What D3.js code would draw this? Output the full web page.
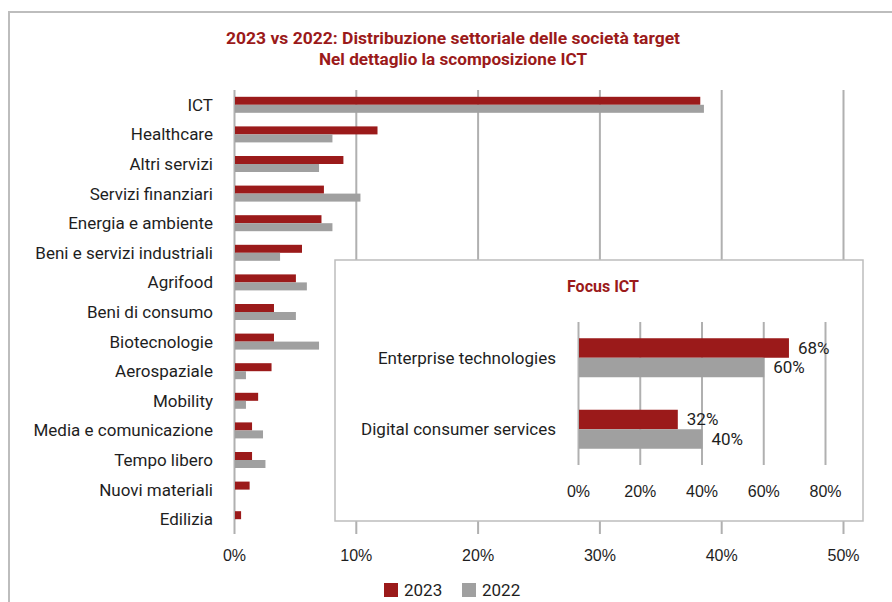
<!DOCTYPE html>
<html>
<head>
<meta charset="utf-8">
<script src="https://cdn.jsdelivr.net/npm/d3@7"></script>
<style>
  body { margin: 0; background: #fff; }
  svg { display: block; font-family: Roboto, "Noto Sans", sans-serif; }
</style>
</head>
<body>
<div id="chart"></div>
<script>
const categories = ["ICT", "Healthcare", "Altri servizi", "Servizi finanziari", "Energia e ambiente",
    "Beni e servizi industriali", "Agrifood", "Beni di consumo", "Biotecnologie", "Aerospaziale",
    "Mobility", "Media e comunicazione", "Tempo libero", "Nuovi materiali", "Edilizia"];
const values2023 = [38.2, 11.7, 8.9, 7.3, 7.1, 5.5, 5.0, 3.2, 3.2, 3.0, 1.9, 1.4, 1.4, 1.2, 0.5];
const values2022 = [38.5, 8.0, 6.9, 10.3, 8.0, 3.7, 5.9, 5.0, 6.9, 0.9, 0.9, 2.3, 2.5, 0, 0];
const xTicks = [0, 10, 20, 30, 40, 50];

const ictCategories = ["Enterprise technologies", "Digital consumer services"];
const ict2023 = [68, 32];
const ict2022 = [60, 40];
const ictTicks = [0, 20, 40, 60, 80];

const series = ["2023", "2022"];

const width = 892, height = 602;
const red = "#9b1a1a", gray = "#a0a0a0", grid = "#b0b0b0", ink = "#1e1e1e";

const svg = d3.select("#chart").append("svg")
    .attr("width", width)
    .attr("height", height);

// outer frame
svg.append("path")
    .attr("d", `M9,${height} V12 H${width}`)
    .attr("fill", "none")
    .attr("stroke", "#bdbdbd")
    .attr("stroke-width", 2);

// title
const titleLines = ["2023 vs 2022: Distribuzione settoriale delle società target", "Nel dettaglio la scomposizione ICT"];
const titleWidths = [454, 268];
svg.selectAll(".title")
    .data(titleLines)
    .enter().append("text")
    .attr("class", "title")
    .attr("x", 453)
    .attr("y", (d, i) => 38 + i * 21)
    .attr("dy", "0.35em")
    .attr("text-anchor", "middle")
    .attr("textLength", (d, i) => titleWidths[i])
    .attr("lengthAdjust", "spacingAndGlyphs")
    .style("font-size", "17px")
    .style("font-weight", "bold")
    .style("fill", red)
    .text(d => d);

// main chart
const x = d3.scaleLinear().domain([0, 50]).range([234, 843]);
const y = d3.scaleBand().domain(categories).range([90, 534]);
const barH = 8;

const xAxis = svg.append("g")
    .attr("transform", "translate(0,534)")
    .call(d3.axisBottom(x).tickValues(xTicks).tickFormat(d => d + "%")
        .tickSizeInner(-444).tickSizeOuter(0).tickPadding(16));
xAxis.select(".domain").remove();
xAxis.selectAll("line").attr("stroke", grid).attr("stroke-width", 2);
xAxis.selectAll("text").style("font-size", "16px").style("fill", ink).attr("font-family", null);

const rows = svg.selectAll(".row")
    .data(categories)
    .enter().append("g")
    .attr("class", "row")
    .attr("transform", d => `translate(0,${y(d) + y.bandwidth() / 2})`);

rows.append("text")
    .attr("x", 213)
    .attr("dy", "0.35em")
    .attr("text-anchor", "end")
    .style("font-size", "17px")
    .style("fill", ink)
    .text(d => d);

rows.append("rect")
    .attr("x", x(0) + 1)
    .attr("y", -barH)
    .attr("width", (d, i) => x(values2023[i]) - x(0))
    .attr("height", barH)
    .attr("fill", red);

rows.append("rect")
    .attr("x", x(0) + 1)
    .attr("y", 0)
    .attr("width", (d, i) => x(values2022[i]) - x(0))
    .attr("height", barH)
    .attr("fill", gray);

// inset: Focus ICT
const inset = svg.append("g");
inset.append("rect")
    .attr("x", 335).attr("y", 260)
    .attr("width", 528).attr("height", 261)
    .attr("fill", "#fff")
    .attr("stroke", "#bdbdbd")
    .attr("stroke-width", 1.5);

inset.append("text")
    .attr("x", 603)
    .attr("y", 286)
    .attr("dy", "0.35em")
    .attr("text-anchor", "middle")
    .style("font-size", "16px")
    .style("font-weight", "bold")
    .style("fill", red)
    .text("Focus ICT");

const xi = d3.scaleLinear().domain([0, 80]).range([578, 825]);
const yi = d3.scaleBand().domain(ictCategories).range([322, 465]);
const barHi = 19.5;

const xiAxis = inset.append("g")
    .attr("transform", "translate(0,465)")
    .call(d3.axisBottom(xi).tickValues(ictTicks).tickFormat(d => d + "%")
        .tickSizeInner(-143).tickSizeOuter(0).tickPadding(21));
xiAxis.select(".domain").remove();
xiAxis.selectAll("line").attr("stroke", grid).attr("stroke-width", 2);
xiAxis.selectAll("text").style("font-size", "16px").style("fill", ink).attr("font-family", null);

const irows = inset.selectAll(".irow")
    .data(ictCategories)
    .enter().append("g")
    .attr("class", "irow")
    .attr("transform", d => `translate(0,${yi(d) + yi.bandwidth() / 2})`);

irows.append("text")
    .attr("x", 556)
    .attr("dy", "0.35em")
    .attr("text-anchor", "end")
    .style("font-size", "17px")
    .style("fill", ink)
    .text(d => d);

[[ict2023, red, -barHi], [ict2022, gray, 0]].forEach(([vals, col, off]) => {
    irows.append("rect")
        .attr("x", xi(0) + 1)
        .attr("y", off)
        .attr("width", (d, i) => xi(vals[i]) - xi(0))
        .attr("height", barHi)
        .attr("fill", col);
    irows.append("text")
        .attr("x", (d, i) => xi(vals[i]) + 10)
        .attr("y", off + barHi / 2)
        .attr("dy", "0.35em")
        .style("font-size", "17px")
        .style("fill", ink)
        .text((d, i) => vals[i] + "%");
});

// legend
const legend = svg.append("g").attr("transform", "translate(384,590)");
const legItems = legend.selectAll(".leg")
    .data(series)
    .enter().append("g")
    .attr("class", "leg")
    .attr("transform", (d, i) => `translate(${i * 78},0)`);
legItems.append("rect")
    .attr("x", 0).attr("y", -7)
    .attr("width", 14).attr("height", 14)
    .attr("fill", (d, i) => i === 0 ? red : gray);
legItems.append("text")
    .attr("x", 20)
    .attr("dy", "0.35em")
    .style("font-size", "17px")
    .style("fill", ink)
    .text(d => d);
</script>
</body>
</html>
